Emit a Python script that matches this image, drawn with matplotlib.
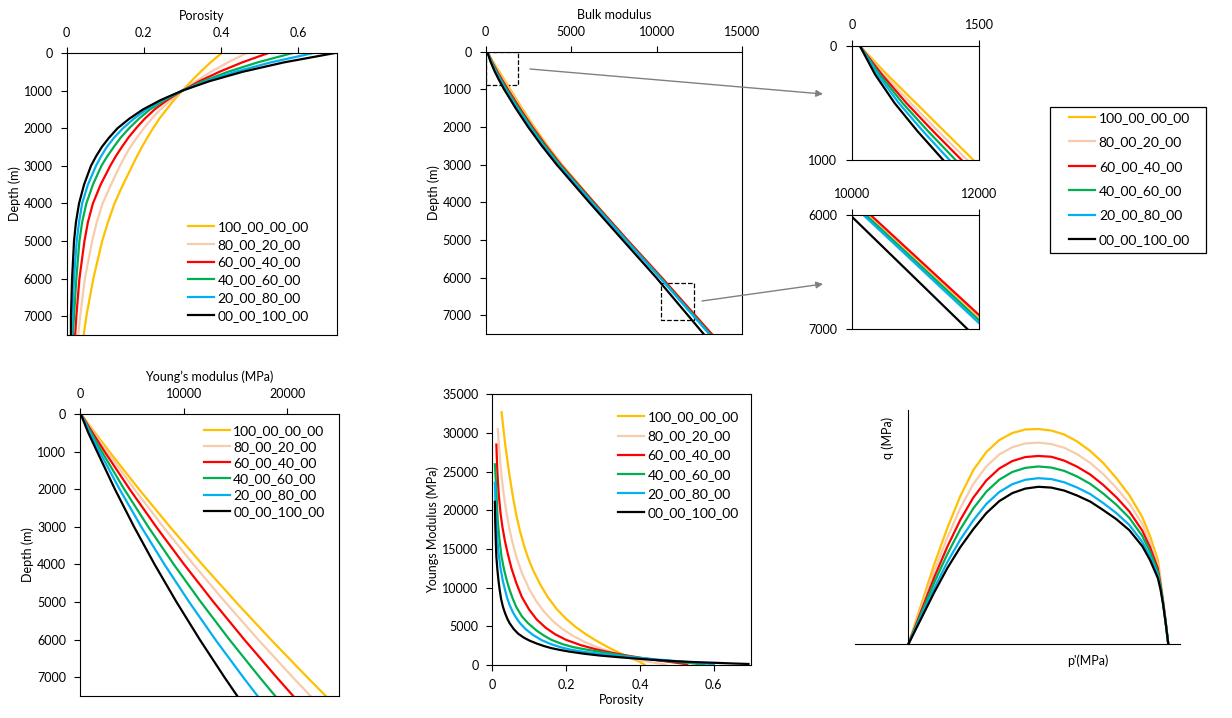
import matplotlib.pyplot as plt
from matplotlib.patches import Rectangle
from matplotlib.ticker import FuncFormatter

plt.rcParams['font.family'] = ['Lato', 'DejaVu Sans']

W, H = 1232, 718

names = ['100_00_00_00', '80_00_20_00', '60_00_40_00',
         '40_00_60_00', '20_00_80_00', '00_00_100_00']
colors = ['#FFC000', '#F8CBAD', '#FF0000', '#00B050', '#00B0F0', '#000000']

# porosity vs depth
por_depth = [0, 250, 500, 750, 1000, 1250, 1500, 1750, 2000, 2250, 2500, 2750, 3000,
             3500, 4000, 4500, 5000, 6000, 7000, 7500]
porosity = [
    [0.402, 0.373, 0.347, 0.323, 0.300, 0.278, 0.259, 0.240, 0.224, 0.209, 0.195, 0.182,
     0.170, 0.146, 0.124, 0.107, 0.092, 0.069, 0.051, 0.044],
    [0.467, 0.418, 0.374, 0.335, 0.300, 0.270, 0.243, 0.220, 0.200, 0.182, 0.165, 0.151,
     0.138, 0.115, 0.093, 0.078, 0.066, 0.047, 0.035, 0.030],
    [0.523, 0.455, 0.396, 0.344, 0.300, 0.261, 0.228, 0.202, 0.180, 0.160, 0.143, 0.127,
     0.113, 0.088, 0.068, 0.055, 0.046, 0.033, 0.025, 0.022],
    [0.586, 0.495, 0.418, 0.354, 0.300, 0.254, 0.216, 0.187, 0.162, 0.140, 0.122, 0.105,
     0.090, 0.068, 0.051, 0.040, 0.033, 0.025, 0.019, 0.016],
    [0.640, 0.529, 0.437, 0.362, 0.300, 0.249, 0.207, 0.174, 0.146, 0.123, 0.104, 0.089,
     0.076, 0.055, 0.040, 0.032, 0.026, 0.019, 0.015, 0.013],
    [0.696, 0.563, 0.456, 0.370, 0.300, 0.244, 0.198, 0.162, 0.132, 0.110, 0.091, 0.076,
     0.063, 0.045, 0.032, 0.024, 0.019, 0.014, 0.011, 0.011],
]

# bulk modulus vs depth
bulk_depth = [0, 250, 500, 750, 1000, 1500, 2000, 2500, 3000, 4000, 5000, 6000, 7000, 7500]
bulk = [
    [90, 410, 752, 1092, 1433, 2120, 2840, 3615, 4455, 6320, 8260, 10250, 12190, 13160],
    [90, 375, 690, 1020, 1362, 2050, 2780, 3570, 4420, 6300, 8240, 10235, 12170, 13140],
    [90, 350, 640, 960, 1294, 1990, 2730, 3530, 4390, 6320, 8280, 10290, 12240, 13215],
    [90, 325, 595, 900, 1223, 1920, 2660, 3460, 4320, 6250, 8210, 10215, 12150, 13120],
    [90, 300, 550, 840, 1151, 1840, 2580, 3380, 4250, 6200, 8170, 10175, 12100, 13065],
    [90, 270, 500, 775, 1076, 1750, 2480, 3280, 4150, 6050, 8000, 9965, 11816, 12740],
]

# Young's modulus vs depth
ym_depth = [0, 500, 1000, 2000, 3000, 4000, 5000, 6000, 7000, 7500]
youngs = [
    [100, 1450, 2831, 5692, 8681, 11800, 15047, 18424, 21929, 23730],
    [100, 1336, 2606, 5250, 8031, 10950, 14007, 17201, 20533, 22250],
    [90, 1214, 2372, 4794, 7352, 10050, 12886, 15859, 18972, 20580],
    [80, 1071, 2101, 4269, 6586, 9050, 11663, 14422, 17331, 18840],
    [80, 960, 1877, 3821, 5912, 8150, 10535, 13067, 15746, 17140],
    [70, 800, 1653, 3369, 5219, 7200, 9314, 11561, 13940, 15180],
]

# Young's modulus vs porosity
yp_phi = [
    [0.025, 0.035, 0.045, 0.055, 0.065, 0.075, 0.085, 0.095, 0.11, 0.13, 0.15, 0.175,
     0.20, 0.225, 0.25, 0.275, 0.30, 0.32, 0.34, 0.36, 0.38, 0.40, 0.413],
    [0.015, 0.020, 0.025, 0.030, 0.038, 0.046, 0.055, 0.065, 0.08, 0.10, 0.12, 0.14,
     0.165, 0.19, 0.22, 0.25, 0.28, 0.31, 0.34, 0.37, 0.40, 0.425, 0.445, 0.46, 0.469],
    [0.011, 0.013, 0.015, 0.018, 0.022, 0.027, 0.034, 0.042, 0.052, 0.065, 0.08, 0.10,
     0.12, 0.145, 0.17, 0.20, 0.24, 0.28, 0.32, 0.36, 0.40, 0.44, 0.47, 0.50, 0.515, 0.528],
    [0.007, 0.009, 0.011, 0.013, 0.015, 0.019, 0.025, 0.032, 0.040, 0.047, 0.056, 0.065,
     0.08, 0.097, 0.12, 0.14, 0.16, 0.19, 0.22, 0.26, 0.30, 0.35, 0.40, 0.45, 0.50,
     0.54, 0.575],
    [0.007, 0.008, 0.009, 0.011, 0.014, 0.017, 0.022, 0.028, 0.034, 0.040, 0.047, 0.056,
     0.065, 0.074, 0.09, 0.11, 0.133, 0.16, 0.185, 0.21, 0.25, 0.292, 0.35, 0.40, 0.45,
     0.50, 0.55, 0.58, 0.60],
    [0.007, 0.0075, 0.008, 0.0095, 0.011, 0.014, 0.017, 0.020, 0.024, 0.029, 0.035, 0.041,
     0.047, 0.058, 0.07, 0.085, 0.101, 0.12, 0.14, 0.16, 0.183, 0.21, 0.25, 0.292, 0.35,
     0.40, 0.45, 0.50, 0.55, 0.60, 0.65, 0.694],
]
yp_E = [
    [32700, 28500, 25000, 22000, 19400, 17300, 15600, 14100, 12300, 10400, 8800, 7200,
     5970, 4950, 4090, 3330, 2650, 2140, 1670, 1210, 800, 400, 30],
    [30500, 27050, 24470, 22420, 19800, 17700, 15780, 14020, 11920, 9800, 8190, 6910,
     5640, 4650, 3725, 2990, 2380, 1860, 1400, 990, 650, 415, 250, 140, 30],
    [28500, 25800, 23800, 21760, 19760, 17970, 16070, 14370, 12500, 10600, 8800, 7150,
     5900, 4800, 3980, 3250, 2560, 2040, 1620, 1265, 950, 665, 465, 280, 178, 30],
    [25950, 24300, 22600, 20300, 18500, 16400, 14000, 12300, 10800, 9700, 8500, 7500,
     6300, 5400, 4450, 3800, 3250, 2700, 2300, 1950, 1650, 1250, 900, 630, 420, 230, 30],
    [23550, 21900, 20400, 18300, 16100, 14500, 12600, 11000, 9800, 8700, 7750, 6800,
     6080, 5470, 4650, 3890, 3230, 2680, 2300, 2010, 1690, 1460, 1160, 915, 700, 505,
     308, 185, 40],
    [21100, 19700, 18300, 16000, 14000, 12200, 10800, 9700, 8500, 7500, 6650, 5950,
     5400, 4650, 4050, 3550, 3150, 2780, 2450, 2180, 1950, 1720, 1450, 1220, 980, 790,
     620, 475, 370, 290, 200, 130],
]

# q - p' yield curves (no scale on the original axes)
qp_p = [0, 0.025, 0.05, 0.1, 0.15, 0.2, 0.25, 0.3, 0.35, 0.4, 0.45, 0.5, 0.55, 0.6,
        0.65, 0.7, 0.75, 0.8, 0.85, 0.9, 0.93, 0.95, 0.96, 0.97, 0.98, 0.99, 1.0]
qp_q = [
    [0, 20, 40, 80, 116, 148, 174, 192, 204, 211, 214.5, 215, 213.5, 209.5, 202.5,
     193, 181, 166, 149, 127, 108, 92, 84, 64, 44, 23, 0],
    [0, 18.3, 36.7, 73.4, 106.6, 136, 160.1, 177.6, 189.6, 196.8, 200.6, 201.4, 200,
     196.3, 189.8, 181.1, 169.9, 156.3, 140.7, 120.2, 102.3, 87.3, 79.8, 61.9, 43.1, 22.5, 0],
    [0, 16.7, 33.5, 67, 97.4, 124.2, 146.5, 163.6, 175.6, 183, 187, 188.1, 187.3,
     183.4, 177.3, 169.5, 159.1, 146.9, 132.7, 113.5, 96.8, 82.7, 75.6, 59.8, 42.1, 22.1, 0],
    [0, 15.5, 30.9, 61.8, 90, 114.9, 135.7, 152.4, 164.4, 172.1, 176.2, 177.6, 176.5,
     173.2, 167.5, 160.2, 150.5, 139.4, 126.3, 108.2, 92.4, 79, 72.3, 58.2, 41.4, 21.7, 0],
    [0, 14, 28.1, 56.2, 82, 104.6, 123.8, 140.1, 152.1, 159.9, 164.3, 165.9, 165,
     161.8, 156.5, 150, 141, 131.1, 119.2, 102.3, 87.6, 75, 68.7, 56.3, 40.6, 21.3, 0],
    [0, 13, 26, 52, 76, 97, 115, 131, 143, 151, 155.5, 157.3, 156.5, 153.5, 148.5,
     142.5, 134, 125, 114, 98, 84, 72, 66, 55, 40, 21, 0],
]

fmt = FuncFormatter(lambda v, p: f'{v:g}')
fig = plt.figure(figsize=(W / 100, H / 100), dpi=100)


def box(x0, y0, x1, y1):
    return fig.add_axes([x0 / W, 1 - y1 / H, (x1 - x0) / W, (y1 - y0) / H])


def style(ax, top=True, pad=6):
    for s in ax.spines.values():
        s.set_linewidth(0.8)
    if top:
        ax.xaxis.tick_top()
        ax.xaxis.set_label_position('top')
    ax.tick_params(direction='out', length=4, width=0.8, labelsize=9, pad=pad)
    ax.xaxis.set_major_formatter(fmt)


def depth_panel(ax, xlim, xticks, xlabel):
    style(ax)
    ax.set_xlim(*xlim)
    ax.set_xticks(xticks)
    ax.set_ylim(7500, 0)
    ax.set_yticks(range(0, 7001, 1000))
    ax.set_xlabel(xlabel, fontsize=9, labelpad=5)
    ax.set_ylabel('Depth (m)', fontsize=9, labelpad=2)


def panel_legend(ax, x, y, spacing):
    ax.legend(loc='upper left', bbox_to_anchor=(x, y), frameon=False, fontsize=10,
              handlelength=1.85, handletextpad=0.25, labelspacing=spacing,
              borderpad=0, borderaxespad=0)


# porosity
ax1 = box(66.7, 53, 336.7, 335)
for i in range(6):
    ax1.plot(porosity[i], por_depth, color=colors[i], lw=1.6, label=names[i])
depth_panel(ax1, (0, 0.7), [0, 0.2, 0.4, 0.6], 'Porosity')
panel_legend(ax1, 0.45, 0.405, 0.42)

# bulk modulus
ax2 = box(485.7, 51.7, 742.3, 334)
for i in range(6):
    ax2.plot(bulk[i], bulk_depth, color=colors[i], lw=1.6)
depth_panel(ax2, (0, 15000), [0, 5000, 10000, 15000], 'Bulk modulus')
ax2.add_patch(Rectangle((0, 0), 1910, 895, fill=False, ls='--', lw=0.9, ec='black'))
ax2.add_patch(Rectangle((10250, 6158), 1910, 957, fill=False, ls='--', lw=0.9, ec='black'))

# zoomed insets
for (y0, y1), xl, yl in [((46, 160), (0, 1500), (0, 1000)),
                         ((215, 329), (10000, 12000), (6000, 7000))]:
    axi = box(852.3, y0, 979, y1)
    for i in range(6):
        axi.plot(bulk[i], bulk_depth, color=colors[i], lw=1.6)
    style(axi, pad=7)
    axi.set_xlim(*xl)
    axi.set_ylim(yl[1], yl[0])
    axi.set_xticks(list(xl))
    axi.set_yticks(list(yl))

arrow = dict(arrowstyle='-|>', color='#808080', lw=1, mutation_scale=10, shrinkA=0, shrinkB=0)
ax2.annotate('', xy=(823 / W, 1 - 94 / H), xytext=(530 / W, 1 - 69 / H),
             xycoords='figure fraction', textcoords='figure fraction', arrowprops=arrow)
ax2.annotate('', xy=(823 / W, 1 - 284 / H), xytext=(702 / W, 1 - 301 / H),
             xycoords='figure fraction', textcoords='figure fraction', arrowprops=arrow)

# shared legend on the right
fig.add_artist(Rectangle((1050 / W, 1 - 252.7 / H), 156 / W, 146 / H, fill=False,
                         ec='black', lw=0.9, transform=fig.transFigure))
h, l = ax1.get_legend_handles_labels()
fig.legend(h, l, loc='upper left', bbox_to_anchor=(1069 / W, 1 - 112 / H), frameon=False,
           fontsize=10, handlelength=1.85, handletextpad=0.3, labelspacing=0.89,
           borderpad=0, borderaxespad=0)

# Young's modulus vs depth
ax4 = box(80, 414, 339, 696)
for i in range(6):
    ax4.plot(youngs[i], ym_depth, color=colors[i], lw=1.6, label=names[i])
depth_panel(ax4, (0, 25000), [0, 10000, 20000], 'Young\u2019s modulus (MPa)')
panel_legend(ax4, 0.479, 0.962, 0.3)

# Young's modulus vs porosity
ax5 = box(492.3, 394.3, 750.7, 665)
for i in range(6):
    ax5.plot(yp_phi[i], yp_E[i], color=colors[i], lw=1.6, label=names[i])
style(ax5, top=False)
ax5.set_xlim(0, 0.7)
ax5.set_ylim(0, 35000)
ax5.set_xticks([0, 0.2, 0.4, 0.6])
ax5.set_yticks(range(0, 35001, 5000))
ax5.set_xlabel('Porosity', fontsize=9, labelpad=2)
ax5.set_ylabel('Youngs Modulus (MPa)', fontsize=9, labelpad=2)
panel_legend(ax5, 0.488, 0.937, 0.51)

# q - p' yield surfaces
ax6 = box(855, 410, 1180, 644.3)
for i in range(6):
    ax6.plot(qp_p, qp_q[i], color=colors[i], lw=1.6)
ax6.set_xlim(-0.205, 1.045)
ax6.set_ylim(0, 234)
ax6.spines['top'].set_visible(False)
ax6.spines['right'].set_visible(False)
ax6.spines['left'].set_position(('data', 0))
for s in ax6.spines.values():
    s.set_linewidth(0.8)
ax6.set_xticks([])
ax6.set_yticks([])
ax6.text(-0.078, 206, 'q (MPa)', rotation=90, ha='center', va='center', fontsize=9)
ax6.text(0.69, -16, "p'(MPa)", ha='center', va='center', fontsize=9, clip_on=False)

fig.savefig('out.png', dpi=100)
